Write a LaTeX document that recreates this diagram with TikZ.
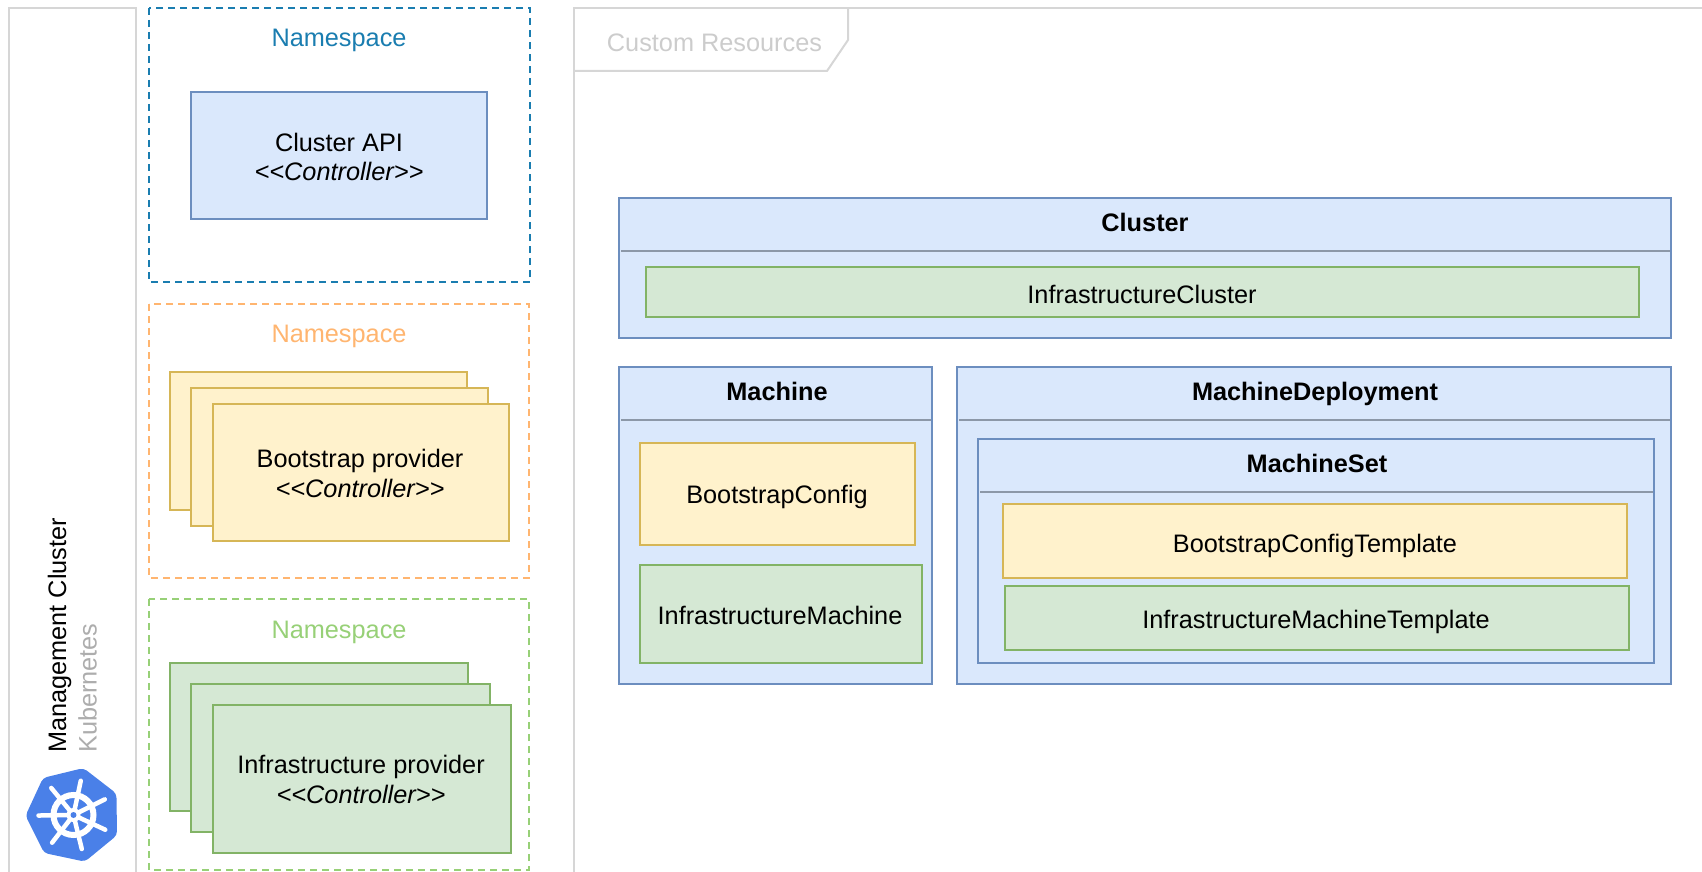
\documentclass[tikz,border=0pt]{standalone}
\usepackage{fontspec}
\setmainfont{Liberation Sans}

\definecolor{blueFill}{HTML}{DAE8FC}
\definecolor{blueLine}{HTML}{6C8EBF}
\definecolor{yellowFill}{HTML}{FFF2CC}
\definecolor{yellowLine}{HTML}{D6B656}
\definecolor{greenFill}{HTML}{D5E8D4}
\definecolor{greenLine}{HTML}{82B366}
\definecolor{nsBlue}{HTML}{1A7DB0}
\definecolor{nsOrange}{HTML}{FFB570}
\definecolor{nsGreen}{HTML}{97D077}
\definecolor{panelGray}{HTML}{D6D6D6}
\definecolor{headGray}{HTML}{8C98A8}
\definecolor{wheelBlue}{HTML}{4A80E8}

\tikzset{
	boxtext/.style={anchor=base, inner sep=0pt, align=center, font=\fontsize{25.3}{30}\selectfont},
	headtext/.style={boxtext, font=\fontsize{25.3}{30}\selectfont\bfseries},
	bluebox/.style={draw=blueLine, fill=blueFill, line width=2pt},
	yellowbox/.style={draw=yellowLine, fill=yellowFill, line width=2pt},
	greenbox/.style={draw=greenLine, fill=greenFill, line width=2pt},
	headline/.style={draw=headGray, line width=1.6pt},
	panel/.style={draw=panelGray, line width=2pt},
	nsbox/.style={line width=2pt, dash pattern=on 7pt off 5pt},
}

\begin{document}
\begin{tikzpicture}[x=1pt, y=-1pt]
	\useasboundingbox (0,0) rectangle (1702,872);

	%% Management Cluster
	\draw[panel] (9,872) -- (9,8) -- (136,8) -- (136,872);
	\node[boxtext, anchor=base west, rotate=90] (mgmtText) at (66,753) {Management Cluster};
	\node[boxtext, anchor=base west, rotate=90, text=black!32] (k8sText) at (96.5,753) {Kubernetes};

	%% Logo
	\begin{scope}[shift={(73.5,815)}]
		\fill[wheelBlue, rounded corners=4pt] (-78:48) \foreach \i in {1,...,6} { -- ({\i*360/7-78}:48) } -- cycle;
		\foreach \i in {0,...,6} {
			\draw[white, line width=4.5pt, line cap=round] (0,0) -- ({\i*360/7-78}:35);
		}
		\draw[white, line width=6pt] (0,0) circle (20);
		\fill[white] (0,0) circle (7);
		\fill[wheelBlue] (0,0) circle (3);
	\end{scope}

	%% Namespace Cluster API
	\draw[nsbox, draw=nsBlue] (149,8) rectangle (530,282);
	\node[boxtext, text=nsBlue] (nsApi) at (339,47) {Namespace};
	\draw[bluebox] (191,92) rectangle (487,219);
	\node[boxtext] (apiText) at (339,151) {Cluster API};
	\node[boxtext] (apiCtrl) at (339,180) {\itshape <{}<Controller>{}>};

	%% Namespace Bootstrap
	\draw[nsbox, draw=nsOrange] (149,304) rectangle (529,578);
	\node[boxtext, text=nsOrange] (nsBoot) at (339,342) {Namespace};
	\draw[yellowbox] (170,372) rectangle (467,510);
	\draw[yellowbox] (191,388) rectangle (488,526);
	\draw[yellowbox] (213,404) rectangle (509,541);
	\node[boxtext] (bootText) at (360,467) {Bootstrap provider};
	\node[boxtext] (bootCtrl) at (360,497) {\itshape <{}<Controller>{}>};

	%% Namespace Infrastructure
	\draw[nsbox, draw=nsGreen] (149,599) rectangle (529,870);
	\node[boxtext, text=nsGreen] (nsInfra) at (339,638) {Namespace};
	\draw[greenbox] (170,663) rectangle (468,811);
	\draw[greenbox] (191,684) rectangle (490,832);
	\draw[greenbox] (213,705) rectangle (511,853);
	\node[boxtext] (infraText) at (361,773) {Infrastructure provider};
	\node[boxtext] (infraCtrl) at (361,803) {\itshape <{}<Controller>{}>};

	%%%%%%%%%%%%%%%%

	%% Custom Resources
	\draw[panel] (574,872) -- (574,8) -- (1702,8);
	\draw[panel] (848,8) -- (848,40) -- (827,71) -- (574,71);
	\node[boxtext, text=black!20] (crText) at (714.5,52) {Custom Resources};

	%% Cluster
	\draw[bluebox] (619,198) rectangle (1671,338);
	\draw[headline] (621,251) -- (1670,251);
	\node[headtext] (clusterHead) at (1145,231) {Cluster};
	\draw[greenbox] (646,267) rectangle (1639,317);
	\node[boxtext] (infraCluster) at (1142,303) {InfrastructureCluster};

	%% Machine
	\draw[bluebox] (619,367) rectangle (932,684);
	\draw[headline] (621,420) -- (931,420);
	\node[headtext] (machineHead) at (777,400) {Machine};
	\draw[yellowbox] (640,443) rectangle (915,545);
	\node[boxtext] (bootConfig) at (777,503) {BootstrapConfig};
	\draw[greenbox] (640,565) rectangle (922,663);
	\node[boxtext] (infraMachine) at (780,624) {InfrastructureMachine};

	%% MachineDeployment
	\draw[bluebox] (957,367) rectangle (1671,684);
	\draw[headline] (959,420) -- (1670,420);
	\node[headtext] (deployHead) at (1315,400) {MachineDeployment};

	%% MachineSet
	\draw[bluebox] (978,439) rectangle (1654,663);
	\draw[headline] (980,492) -- (1653,492);
	\node[headtext] (setHead) at (1317,472) {MachineSet};
	\draw[yellowbox] (1003,504) rectangle (1627,578);
	\node[boxtext] (bootTemplate) at (1315,552) {BootstrapConfigTemplate};
	\draw[greenbox] (1005,586) rectangle (1629,650);
	\node[boxtext] (infraTemplate) at (1316,628) {InfrastructureMachineTemplate};
\end{tikzpicture}
\end{document}
